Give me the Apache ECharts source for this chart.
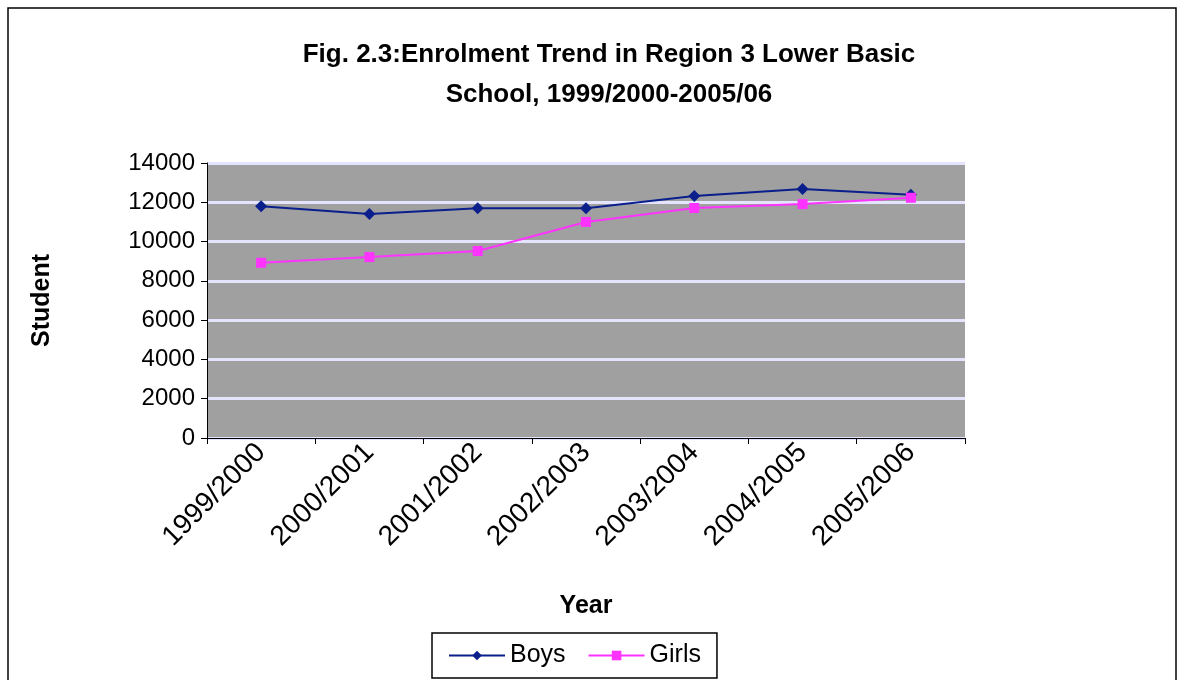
<!DOCTYPE html>
<html>
<head>
<meta charset="utf-8">
<script src="https://cdn.jsdelivr.net/npm/echarts@6/dist/echarts.min.js"></script>
<style>html,body{margin:0;padding:0;background:#fff}#main{width:1184px;height:680px}</style>
</head>
<body>
<div id="main"></div>
<script>
var years = ["1999/2000", "2000/2001", "2001/2002", "2002/2003", "2003/2004", "2004/2005", "2005/2006"];
var boys = [11800, 11400, 11700, 11700, 12320, 12680, 12380];
var girls = [8920, 9210, 9520, 11000, 11710, 11910, 12230];
var yTicks = { min: 0, max: 14000, interval: 2000 };

var chart = echarts.init(document.getElementById("main"));
var option = {
  animation: false,
  title: {
    text: "Fig. 2.3:Enrolment Trend in Region 3 Lower Basic\nSchool, 1999/2000-2005/06",
    left: 604, textAlign: "center", top: 30,
    textStyle: { fontFamily: "Liberation Sans, Arial", fontSize: 26, fontWeight: "bold", color: "#000", lineHeight: 40 }
  },
  graphic: [
    { type: "rect", shape: { x: 8, y: 8, width: 1168, height: 680 }, style: { fill: "none", stroke: "#000", lineWidth: 1.5 } }
  ],
  legend: {
    bottom: 2, left: 432,
    padding: [10, 16], borderColor: "#000", borderWidth: 1.5, borderRadius: 0,
    itemWidth: 56, itemHeight: 12, itemGap: 22,
    textStyle: { fontFamily: "Liberation Sans, Arial", fontSize: 25, color: "#000" },
    data: ["Boys", "Girls"]
  },
  grid: { left: 207, right: 219, top: 163, bottom: 242, show: true, backgroundColor: "#a0a0a0", borderWidth: 0 },
  xAxis: {
    type: "category", data: years, boundaryGap: true,
    name: "Year", nameLocation: "middle", nameGap: 156,
    nameTextStyle: { fontFamily: "Liberation Sans, Arial", fontSize: 25, fontWeight: "bold", color: "#000" },
    axisLine: { lineStyle: { color: "#000", width: 1 } },
    axisTick: { show: true, length: 6, lineStyle: { color: "#000" } },
    axisLabel: { rotate: 45, fontFamily: "Liberation Sans, Arial", fontSize: 28, color: "#000", margin: 10 }
  },
  yAxis: {
    type: "value", min: yTicks.min, max: yTicks.max, interval: yTicks.interval,
    name: "Student", nameLocation: "middle", nameGap: 152,
    nameTextStyle: { fontFamily: "Liberation Sans, Arial", fontSize: 25, fontWeight: "bold", color: "#000" },
    axisLine: { show: true, lineStyle: { color: "#000" } },
    axisTick: { show: true, length: 6, lineStyle: { color: "#000" } },
    axisLabel: { fontFamily: "Liberation Sans, Arial", fontSize: 24, color: "#000", margin: 12, formatter: function (v) { return String(v); } },
    splitLine: { lineStyle: { color: "#e4e4ff", width: 3 } }
  },
  series: [
    {
      name: "Boys", type: "line", data: boys,
      symbol: "diamond", symbolSize: 12,
      lineStyle: { color: "#0a1e8c", width: 2 },
      itemStyle: { color: "#0a1e8c" }
    },
    {
      name: "Girls", type: "line", data: girls,
      symbol: "rect", symbolSize: 10,
      lineStyle: { color: "#ff33ff", width: 2 },
      itemStyle: { color: "#ff33ff" }
    }
  ]
};
chart.setOption(option);
</script>
</body>
</html>
